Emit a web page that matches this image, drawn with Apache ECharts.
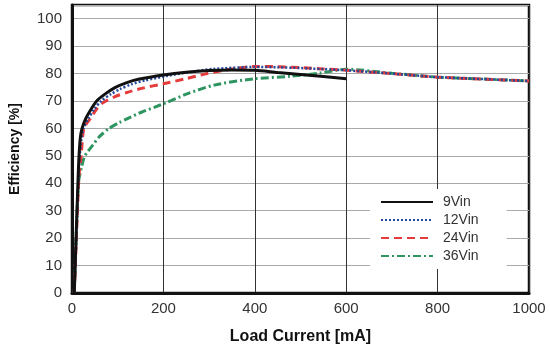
<!DOCTYPE html>
<html>
<head>
<meta charset="utf-8">
<script src="https://cdn.jsdelivr.net/npm/echarts@6/dist/echarts.min.js"></script>
<style>html,body{margin:0;padding:0;background:#fff}#c{width:550px;height:350px}</style>
</head>
<body>
<div id="c"></div>
<script>
const seriesNames = ['9Vin', '12Vin', '24Vin', '36Vin'];
const xTicks = [0, 200, 400, 600, 800, 1000];
const yTicks = [0, 10, 20, 30, 40, 50, 60, 70, 80, 90, 100];

const x9 = [5, 14, 18, 22, 30, 42, 54, 72, 94, 120, 145, 200, 250, 300, 350, 400, 450, 500, 550, 600];
const y9 = [0, 45, 56.4, 60, 63.6, 67.1, 70, 72.5, 74.9, 76.7, 77.9, 79.5, 80.5, 81.1, 81.3, 81.2, 80.4, 79.7, 78.9, 78.1];

const x12 = [5, 15, 19, 25, 36, 49, 64, 85, 105, 130, 160, 210, 260, 310, 400, 450, 500, 550, 600, 700, 800, 900, 1000];
const y12 = [0, 45, 54, 60, 63.6, 67.1, 70, 72.5, 74.3, 76.1, 77.5, 79.2, 80.6, 81.7, 82.4, 82.3, 82, 81.6, 81.2, 80, 78.7, 78, 77.3];

const x24 = [5, 15, 20, 26, 40, 54, 69, 94, 120, 155, 200, 246, 290, 340, 398, 450, 500, 550, 600, 700, 800, 900, 1000];
const y24 = [0, 42, 50, 60, 63.6, 67.1, 69.5, 71.6, 73.1, 74.7, 76.3, 78, 79.8, 81.4, 82.6, 82.5, 82.2, 81.7, 81.2, 80, 78.7, 78, 77.3];

const x36 = [5, 14, 21, 28, 46, 60, 81, 104, 120, 152, 180, 206, 250, 311, 398, 478, 543, 600, 700, 800, 900, 1000];
const y36 = [0, 40, 46, 50, 54, 57, 60, 62.2, 63.5, 65.9, 67.7, 69.4, 72.5, 75.8, 78.1, 79, 80.2, 81.6, 80.1, 78.7, 78, 77.3];

const zip = (xs, ys) => xs.map((x, i) => [x, ys[i]]);
const allX = [x9, x12, x24, x36];
const allY = [y9, y12, y24, y36];
const styles = [
  {color: '#111111', width: 3, type: 'solid'},
  {color: '#23479a', width: 2.5, type: [2, 2]},
  {color: '#e63b3b', width: 3, type: [8, 5]},
  {color: '#2f9560', width: 3, type: [8, 3, 2, 3]}
];

const chart = echarts.init(document.getElementById('c'));
chart.setOption({
  animation: false,
  grid: {left: 70, right: 21, top: 5, bottom: 52, show: true, borderColor: '#111', borderWidth: 2.5, backgroundColor: 'transparent'},
  legend: {
    orient: 'vertical', left: 370, top: 189,
    backgroundColor: '#fff', padding: [6, 28, 6, 10],
    itemWidth: 52, itemHeight: 14, itemGap: 4,
    itemStyle: {opacity: 0},
    textStyle: {fontFamily: 'Liberation Sans', fontSize: 14, color: '#333', padding: [0, 0, 0, 5]},
    data: seriesNames
  },
  xAxis: {
    type: 'value', min: xTicks[0], max: xTicks[xTicks.length - 1], interval: 200,
    name: 'Load Current [mA]', nameLocation: 'middle', nameGap: 36,
    nameTextStyle: {fontFamily: 'Liberation Sans', fontWeight: 'bold', fontSize: 16, color: '#111'},
    axisLine: {show: true, lineStyle: {color: '#111', width: 3}},
    axisTick: {show: false},
    axisLabel: {fontFamily: 'Liberation Sans', fontSize: 15, color: '#333', margin: 8,
      formatter: v => String(v)},
    splitLine: {show: true, lineStyle: {color: '#333', width: 1}}
  },
  yAxis: {
    type: 'value', min: yTicks[0], max: 105, interval: 10,
    name: 'Efficiency [%]', nameLocation: 'middle', nameGap: 50,
    nameTextStyle: {fontFamily: 'Liberation Sans', fontWeight: 'bold', fontSize: 14, color: '#111'},
    axisLine: {show: true, lineStyle: {color: '#111', width: 3}},
    axisTick: {show: false},
    axisLabel: {fontFamily: 'Liberation Sans', fontSize: 15, color: '#333', margin: 10,
      formatter: v => (yTicks.indexOf(v) >= 0 ? String(v) : '')},
    splitLine: {show: true, lineStyle: {color: '#aaa', width: 1}}
  },
  series: seriesNames.map((n, i) => ({
    name: n, type: 'line', data: zip(allX[i], allY[i]),
    symbol: 'none', smooth: 0.25,
    lineStyle: styles[i], itemStyle: {color: styles[i].color},
    z: 4 - i
  }))
});
</script>
</body>
</html>
